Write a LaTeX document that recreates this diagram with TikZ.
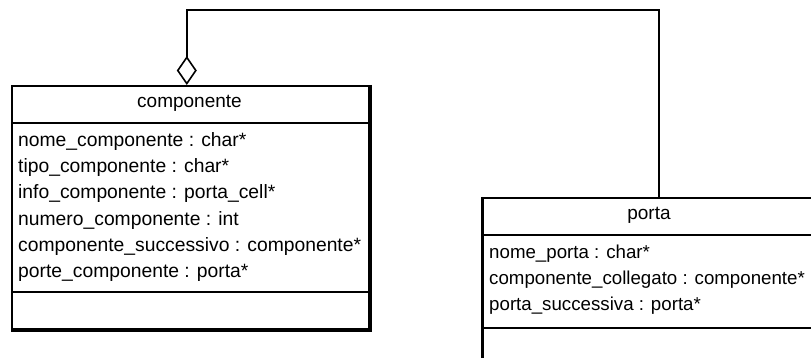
\documentclass[tikz,border=0pt]{standalone}
\usepackage{fontspec}
\setmainfont{Liberation Sans}
\usetikzlibrary{arrows.meta}
\begin{document}
\begin{tikzpicture}[x=1pt,y=-1pt,
  classbox/.style={draw=black, line width=1.6pt, fill=white, inner sep=0pt, anchor=north west},
  heavy/.style={draw=black, line width=4pt},
  divider/.style={draw=black, line width=1.4pt},
  classname/.style={anchor=base, inner sep=0pt, font=\fontsize{19}{22}\selectfont},
  attr/.style={anchor=base west, inner sep=0pt, font=\fontsize{19.3}{22}\selectfont},
  narrowattr/.style={attr, font=\fontsize{18.7}{22}\selectfont},
  link/.style={draw=black, line width=2pt},
  aggregation/.style={-{Diamond[open, length=29pt, width=20pt, line width=1.6pt]}}]

\useasboundingbox (0,0) rectangle (811,358);
\fill[white] (0,0) rectangle (811,358);
\clip (0,0) rectangle (811,358);

% class "componente"
\node[classbox, minimum width=357pt, minimum height=243pt] (comp) at (11,85) {};
\draw[heavy] (comp.north east) -- (comp.south east) -- (comp.south west);
\draw[divider] (comp.north west) ++(0,38) -- ++(357,0);
\draw[divider] (comp.north west) ++(0,207) -- ++(357,0);
\node[classname] (compname) at (189.5,108) {componente};
\node[attr] (c1) at (18,146.5) {nome\_componente : char*};
\node[attr] (c2) at (18,172.7) {tipo\_componente : char*};
\node[attr] (c3) at (18,198.9) {info\_componente : porta\_cell*};
\node[attr] (c4) at (18,225.1) {numero\_componente : int};
\node[attr] (c5) at (18,251.3) {componente\_successivo : componente*};
\node[attr] (c6) at (18,277.5) {porte\_componente : porta*};

% class "porta"
\node[classbox, minimum width=334pt, minimum height=200pt] (porta) at (482,197) {};
\draw[line width=2.6pt] (porta.north west) -- (porta.south west);
\draw[divider] (porta.north west) ++(0,38) -- ++(334,0);
\draw[divider] (porta.north west) ++(0,131) -- ++(334,0);
\node[classname] (portaname) at (649,220) {porta};
\node[narrowattr] (p1) at (489,258.5) {nome\_porta : char*};
\node[narrowattr] (p2) at (489,284.7) {componente\_collegato : componente*};
\node[narrowattr] (p3) at (489,310.9) {porta\_successiva : porta*};

% aggregation: componente owns its porte
\coordinate (porta-port) at ([xshift=9pt]porta.north);
\coordinate (comp-port) at ([xshift=-3.5pt]comp.north);
\coordinate (route) at (0,10);
\draw[link, aggregation] (porta-port) -- (porta-port |- route) -| (comp-port);
\end{tikzpicture}
\end{document}
